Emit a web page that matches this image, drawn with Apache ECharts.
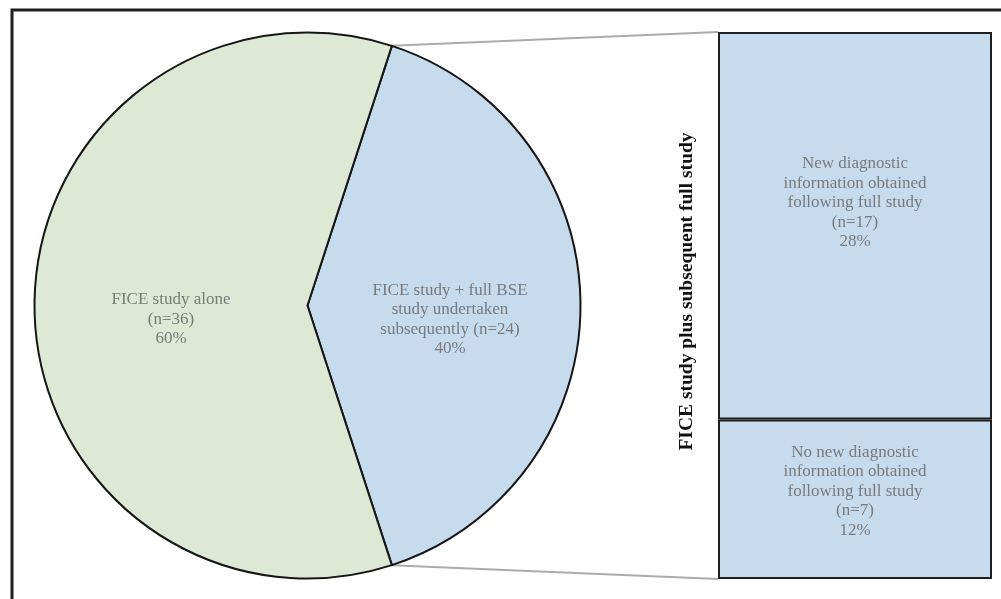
<!DOCTYPE html>
<html>
<head>
<meta charset="utf-8">
<script src="https://cdn.jsdelivr.net/npm/echarts@6/dist/echarts.min.js"></script>
<style>
  html, body { margin: 0; padding: 0; background: #fff; }
  #chart { width: 1001px; height: 599px; }
</style>
</head>
<body>
<div id="chart"></div>
<script>
// pie: the blue slice is drawn first so it sits on the right
const pieNames = ['FICE study + full BSE study undertaken subsequently', 'FICE study alone']
const pieCounts = [24, 36]
const piePercents = [40, 60]
const pieLabelLines = [
  ['FICE study + full BSE', 'study undertaken', 'subsequently (n=24)', '40%'],
  ['FICE study alone', '(n=36)', '60%']
]

// breakdown bar, bottom segment first
const barNames = [
  'No new diagnostic information obtained following full study',
  'New diagnostic information obtained following full study'
]
const barCounts = [7, 17]
const barPercents = [12, 28]
const barLabelLines = [
  ['No new diagnostic', 'information obtained', 'following full study', '(n=7)', '12%'],
  ['New diagnostic', 'information obtained', 'following full study', '(n=17)', '28%']
]
const barTitle = 'FICE study plus subsequent full study'

const pieColors = ['#c7dbee', '#dde9d4']
const barColor = '#c7dbee'

const pieCenter = [307.5, 305.5]
const pieRadius = 273
const gridLeft = 718
const gridRight = 9
const gridTop = 32
const gridBottom = 20

const pieTotal = pieCounts.reduce((a, b) => a + b, 0)
const blueShare = pieCounts[0] / pieTotal
const startAngle = blueShare * 360 / 2
const barTotal = barCounts.reduce((a, b) => a + b, 0)

const chart = echarts.init(document.getElementById('chart'))

const labelFont = 'Liberation Serif'

chart.setOption({
  animation: false,
  grid: { left: gridLeft, right: gridRight, top: gridTop, bottom: gridBottom },
  xAxis: {
    type: 'category',
    data: ['full study'],
    show: false
  },
  yAxis: {
    type: 'value',
    min: 0,
    max: barTotal,
    axisLine: { show: false },
    axisTick: { show: false },
    axisLabel: { show: false },
    splitLine: { show: false },
    name: barTitle,
    nameLocation: 'middle',
    nameRotate: 90,
    nameGap: 21,
    nameTextStyle: {
      fontFamily: labelFont,
      fontWeight: 'bold',
      fontSize: 19.5,
      color: '#111',
      padding: [0, 0, 0, 28]
    }
  },
  series: [
    {
      type: 'pie',
      center: pieCenter,
      radius: pieRadius,
      startAngle: startAngle,
      clockwise: true,
      silent: true,
      itemStyle: { borderColor: '#161616', borderWidth: 2 },
      label: {
        position: 'inside',
        fontFamily: labelFont,
        fontSize: 17,
        lineHeight: 19.5,
        color: '#7a7a7a',
        formatter: (p) => pieLabelLines[p.dataIndex].join('\n')
      },
      // dx/dy end up applied twice here, so these are half the wanted shift
      labelLayout: { dx: 1.5, dy: 7 },
      labelLine: { show: false },
      data: pieNames.map((n, i) => ({
        name: n,
        value: pieCounts[i],
        itemStyle: { color: pieColors[i] }
      }))
    },
    ...barNames.map((n, i) => ({
      type: 'bar',
      name: n,
      stack: 'full',
      barWidth: '100%',
      silent: true,
      itemStyle: { color: barColor, borderColor: '#1e1e1e', borderWidth: 2 },
      label: {
        show: true,
        position: 'inside',
        fontFamily: labelFont,
        fontSize: 17,
        lineHeight: 19.5,
        color: '#7a7a7a',
        offset: [0, i === 0 ? -8 : -23],
        formatter: () => barLabelLines[i].join('\n')
      },
      data: [barCounts[i]]
    }))
  ]
})

// connector lines from the blue slice edges to the bar corners, plus the frame
function slicePoint (angleDeg) {
  const a = angleDeg * Math.PI / 180
  return [pieCenter[0] + pieRadius * Math.cos(a), pieCenter[1] - pieRadius * Math.sin(a)]
}
const pTop = slicePoint(startAngle)
const pBottom = slicePoint(startAngle - blueShare * 360)
const yTop = chart.convertToPixel({ yAxisIndex: 0 }, barTotal)
const yBottom = chart.convertToPixel({ yAxisIndex: 0 }, 0)

chart.setOption({
  graphic: [
    {
      type: 'rect',
      shape: { x: 12, y: 10, width: 1200, height: 800 },
      style: { fill: null, stroke: '#1f1f1f', lineWidth: 3 },
      silent: true
    },
    {
      type: 'line',
      shape: { x1: pTop[0], y1: pTop[1], x2: gridLeft, y2: yTop },
      style: { stroke: '#ababab', lineWidth: 2 },
      z: -1,
      silent: true
    },
    {
      type: 'line',
      shape: { x1: pBottom[0], y1: pBottom[1], x2: gridLeft, y2: yBottom },
      style: { stroke: '#ababab', lineWidth: 2 },
      z: -1,
      silent: true
    }
  ]
})
</script>
</body>
</html>
